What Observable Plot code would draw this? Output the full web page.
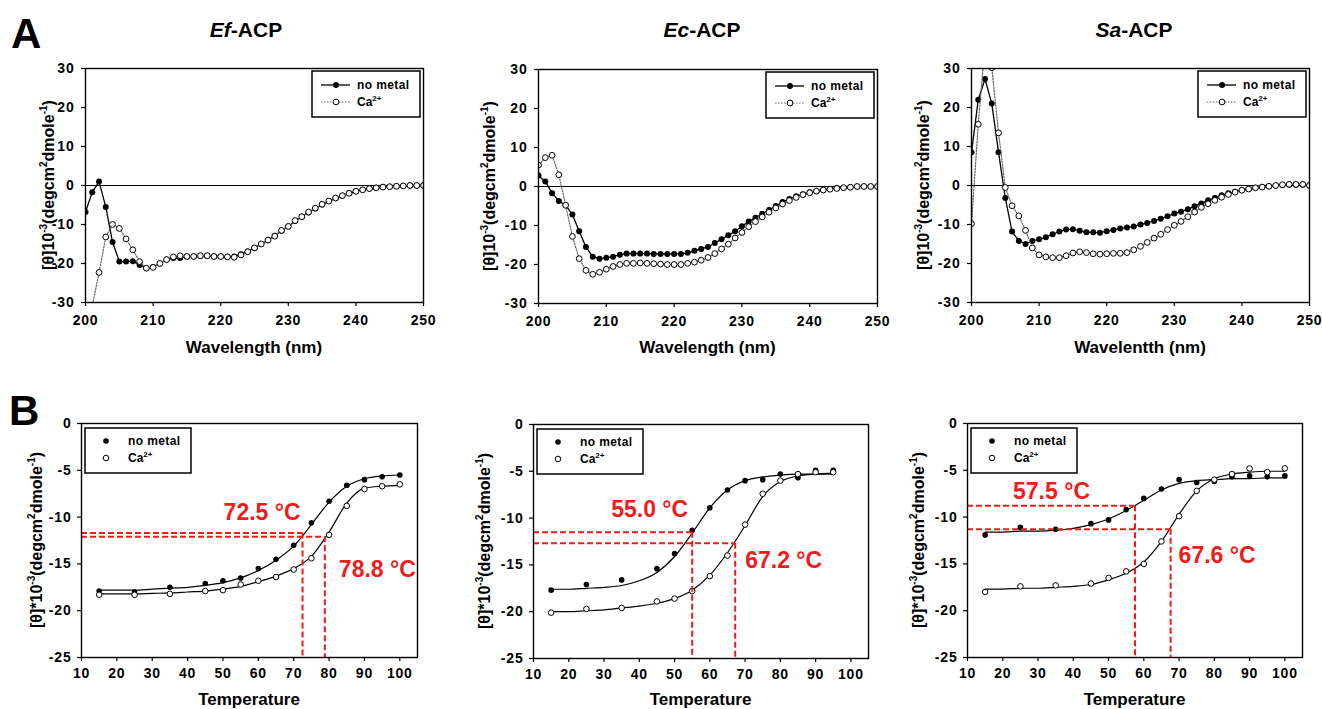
<!DOCTYPE html>
<html><head><meta charset="utf-8">
<script src="https://cdn.jsdelivr.net/npm/d3@7"></script>
<script src="https://cdn.jsdelivr.net/npm/@observablehq/plot@0.6"></script>
<style>
body{margin:0;background:#fff;}
#fig{position:relative;width:1322px;height:709px;overflow:hidden;background:#fff;}
#fig svg{position:absolute;overflow:visible;}
</style></head><body><div id="fig"></div>
<script>
// ---------------- DATA ----------------
const wavelength = [200,201,202,203,204,205,206,207,208,209,210,211,212,213,214,215,216,217,218,219,220,221,222,223,224,225,226,227,228,229,230,231,232,233,234,235,236,237,238,239,240,241,242,243,244,245,246,247,248,249,250];

const efNoMetal = [-6.8,-1.7,1.0,-5.5,-14.5,-19.5,-19.5,-19.4,-20.4,-21.2,-20.9,-20.0,-19.0,-18.6,-18.6,-18.3,-18.2,-18.1,-18.1,-18.2,-18.2,-18.3,-18.2,-17.6,-16.9,-16.0,-15.0,-14.0,-12.9,-11.6,-10.5,-9.1,-8.0,-6.9,-5.9,-4.9,-4.0,-3.3,-2.6,-2.0,-1.5,-1.1,-0.8,-0.6,-0.4,-0.3,-0.2,-0.1,0,0,0];
const efCa = [-48,-31,-22.3,-13.2,-10.0,-11.0,-13.7,-16.5,-19.5,-21.2,-21.0,-20.0,-19.0,-18.3,-18.0,-18.2,-18.2,-18.0,-18.0,-18.2,-18.2,-18.3,-18.4,-17.8,-17.0,-16.0,-15.0,-14.0,-13.0,-11.5,-10.5,-9.0,-8.0,-6.8,-5.8,-4.8,-4.0,-3.2,-2.6,-2.0,-1.5,-1.1,-0.8,-0.6,-0.4,-0.3,-0.2,-0.1,0,0,0];

const ecNoMetal = [2.8,1.3,-1.7,-3.7,-4.8,-7.2,-11.5,-15.5,-18.0,-18.5,-18.3,-18.0,-17.5,-17.2,-17.2,-17.2,-17.2,-17.3,-17.3,-17.3,-17.3,-17.3,-17.0,-16.5,-16.0,-15.5,-14.5,-13.5,-12.5,-11.5,-10.2,-9.0,-8.0,-7.0,-6.0,-5.0,-4.0,-3.2,-2.5,-2.0,-1.5,-1.2,-0.9,-0.6,-0.4,-0.3,-0.2,0,0,0,0];
const ecCa = [5.5,7.4,8.0,3.0,-4.8,-12.8,-18.5,-21.5,-22.5,-22.0,-21.2,-20.5,-20.0,-19.7,-19.7,-19.6,-19.7,-19.8,-19.9,-20.0,-20.0,-20.0,-19.7,-19.4,-18.9,-18.2,-17.2,-16.0,-14.8,-13.2,-11.8,-10.3,-9.0,-7.8,-6.6,-5.5,-4.5,-3.6,-2.8,-2.1,-1.6,-1.2,-0.9,-0.7,-0.5,-0.3,-0.2,0,0,0,0];

const saNoMetal = [8.5,22.0,27.3,21.0,8.5,-3.2,-11.8,-14.2,-15.0,-14.2,-13.8,-13.3,-12.5,-11.8,-11.3,-11.2,-11.6,-12.0,-12.0,-12.1,-11.7,-11.4,-11.0,-10.8,-10.5,-10.0,-9.6,-9.1,-8.5,-7.9,-7.2,-6.7,-6.1,-5.3,-4.6,-3.8,-3.2,-2.5,-2.0,-1.6,-1.2,-0.9,-0.6,-0.4,-0.2,0,0.1,0.2,0.2,0.2,0];
const saCa = [-9.8,15.7,36,30.2,13.5,-0.5,-5.2,-7.8,-11.5,-16.0,-17.8,-18.3,-18.5,-18.5,-18.0,-17.3,-17.0,-17.2,-17.5,-17.6,-17.5,-17.4,-17.4,-17.2,-16.5,-15.6,-14.6,-13.5,-12.5,-11.3,-10.2,-9.2,-8.0,-6.8,-5.6,-4.7,-3.8,-3.0,-2.3,-1.7,-1.2,-0.9,-0.6,-0.4,-0.2,0,0.2,0.3,0.3,0.3,0];

// thermal melts (B)
const efTemp = [15,25,35,45,50,55,60,65,70,75,80,85,90,95,100];
const efMeltNoMetal = [-17.9,-18.0,-17.5,-17.1,-16.8,-16.5,-15.5,-14.5,-13.0,-10.6,-8.3,-6.6,-6.0,-5.7,-5.5];
const efMeltCa = [-18.3,-18.3,-18.2,-17.9,-17.8,-17.2,-16.8,-16.4,-15.6,-14.4,-11.9,-8.8,-7.0,-6.7,-6.5];
const efFitTemp = [15,20,25,30,35,40,45,50,55,60,65,70,75,80,85,90,95,100];
const efFitNoMetal = [-17.8,-17.8,-17.8,-17.7,-17.6,-17.5,-17.3,-17.0,-16.5,-15.7,-14.6,-13.1,-10.8,-8.4,-6.7,-5.9,-5.6,-5.5];
const efFitCa = [-18.2,-18.2,-18.2,-18.15,-18.1,-18.0,-17.9,-17.7,-17.4,-16.9,-16.3,-15.5,-14.2,-11.6,-8.5,-6.9,-6.7,-6.6];
const efTm = [72.5, 78.8];
const efTmY = [-11.7, -12.1];

const ecTemp = [15,25,35,45,50,55,60,65,70,75,80,85,90,95];
const ecMeltNoMetal = [-17.7,-17.1,-16.6,-15.4,-13.8,-11.3,-8.9,-7.0,-6.0,-5.9,-5.3,-5.7,-4.9,-4.9];
const ecMeltCa = [-20.1,-19.7,-19.6,-18.9,-18.6,-17.8,-16.2,-14.0,-10.7,-7.4,-6.0,-5.3,-5.1,-5.1];
const ecFitTemp = [15,20,25,30,35,40,45,50,55,60,65,70,75,80,85,90,95];
const ecFitNoMetal = [-17.6,-17.6,-17.5,-17.4,-17.2,-16.7,-15.8,-14.1,-11.6,-8.9,-7.0,-6.0,-5.6,-5.4,-5.3,-5.3,-5.3];
const ecFitCa = [-20.0,-20.0,-19.9,-19.8,-19.6,-19.4,-19.1,-18.6,-17.7,-16.1,-13.7,-10.8,-7.7,-6.1,-5.5,-5.3,-5.2];
const ecTm = [55.0, 67.2];
const ecTmY = [-11.5, -12.7];

const saTemp = [15,25,35,45,50,55,60,65,70,75,80,85,90,95,100];
const saMeltNoMetal = [-11.9,-11.1,-11.3,-10.7,-10.3,-9.2,-8.0,-7.0,-6.0,-6.3,-6.2,-5.7,-5.6,-5.7,-5.6];
const saMeltCa = [-18.0,-17.4,-17.3,-17.1,-16.5,-15.8,-15.0,-12.6,-9.9,-7.2,-6.0,-5.4,-4.8,-5.2,-4.8];
const saFitTemp = [15,20,25,30,35,40,45,50,55,60,65,70,75,80,85,90,95,100];
const saFitNoMetal = [-11.6,-11.6,-11.5,-11.5,-11.4,-11.2,-10.8,-10.2,-9.3,-8.2,-7.1,-6.4,-6.1,-6.0,-5.9,-5.9,-5.8,-5.8];
const saFitCa = [-17.7,-17.7,-17.6,-17.6,-17.5,-17.4,-17.2,-16.7,-16.0,-14.8,-12.6,-9.7,-7.2,-5.9,-5.4,-5.2,-5.1,-5.1];
const saTm = [57.5, 67.6];
const saTmY = [-8.8, -11.3];

const cdXTicks = [200,210,220,230,240,250];
const cdYTicks = [-30,-20,-10,0,10,20,30];
const meltXTicks = [10,20,30,40,50,60,70,80,90,100];
const meltYTicks = [-25,-20,-15,-10,-5,0];
const proteins = ["Ef","Ec","Sa"];
const cdXLabels = ["Wavelength (nm)","Wavelength (nm)","Wavelentth (nm)"];
const seriesNames = ["no metal","Ca"];

// ---------------- LAYOUT / STYLE ----------------
const FONT = '"Liberation Sans", Arial, Helvetica, sans-serif';
const RED = "#f01c1c";
const fig = document.getElementById("fig");

function placePlot(frame, opts, marks) {
  const [fx0, fy0, fx1, fy1] = frame;
  const mL = 80, mT = 30, mR = 30, mB = 60;
  const svg = Plot.plot({
    width: fx1 - fx0 + mL + mR, height: fy1 - fy0 + mT + mB,
    marginLeft: mL, marginTop: mT, marginRight: mR, marginBottom: mB,
    x: {domain: opts.xDomain}, y: {domain: opts.yDomain},
    style: {fontFamily: FONT, fontSize: "14px", fontWeight: "bold", color: "#000", background: "transparent", overflow: "visible"},
    marks: [
      ...marks,
      Plot.axisX({ticks: opts.xTicks, tickSize: 4, tickPadding: opts.xPad, tickFormat: d => String(d), label: null, fontSize: 14, strokeWidth: 1.2}),
      Plot.axisY({ticks: opts.yTicks, tickSize: 4, tickPadding: opts.yPad, tickFormat: d => String(d), label: null, fontSize: 14, strokeWidth: 1.2}),
      Plot.frame({stroke: "#000", strokeWidth: 1.4})
    ]
  });
  d3.select(svg).selectAll('g[aria-label$="tick label"]').attr("letter-spacing", "0.8px");
  svg.style.left = (fx0 - mL) + "px";
  svg.style.top = (fy0 - mT) + "px";
  fig.appendChild(svg);
}

const cdFrames = [[85,68,423,302],[538,69,877,303],[971,68,1309,302]];
const meltFrames = [[81,423,417,657],[533,424,868,658],[967,423,1302,657]];
const cdSets = [[efNoMetal, efCa],[ecNoMetal, ecCa],[saNoMetal, saCa]];
const meltSets = [
  [efTemp, efMeltNoMetal, efMeltCa, efFitTemp, efFitNoMetal, efFitCa, efTm, efTmY],
  [ecTemp, ecMeltNoMetal, ecMeltCa, ecFitTemp, ecFitNoMetal, ecFitCa, ecTm, ecTmY],
  [saTemp, saMeltNoMetal, saMeltCa, saFitTemp, saFitNoMetal, saFitCa, saTm, saTmY]
];
// annotation offsets (px) per panel: [above-label, below-label]
const annotStyle = [
  [{anchor:"end", dx:-2, dy:-20},{anchor:"start", dx:14, dy:33}],
  [{anchor:"end", dx:-4, dy:-23},{anchor:"start", dx:10, dy:17}],
  [{anchor:"end", dx:-45, dy:-14},{anchor:"start", dx:8, dy:26}]
];

// ---------- Panel A ----------
cdSets.forEach(([nm, ca], i) => {
  const dN = wavelength.map((w, j) => ({w, v: nm[j]}));
  const dC = wavelength.map((w, j) => ({w, v: ca[j]}));
  placePlot(cdFrames[i], {xDomain: [200, 250], yDomain: [-30, 30], xTicks: cdXTicks, yTicks: cdYTicks, xPad: 9, yPad: 7}, [
    Plot.ruleY([0], {stroke: "#000", strokeWidth: 1.2}),
    Plot.line(dN, {x: "w", y: "v", stroke: "#000", strokeWidth: 1.3, clip: true}),
    Plot.dot(dN, {x: "w", y: "v", r: 3, fill: "#000", clip: true}),
    Plot.line(dC, {x: "w", y: "v", stroke: "#666", strokeWidth: 1.2, strokeDasharray: "1.5,1.5", clip: true}),
    Plot.dot(dC, {x: "w", y: "v", r: 2.9, fill: "#fff", stroke: "#000", strokeWidth: 1, clip: true})
  ]);
});

// ---------- Panel B ----------
meltSets.forEach(([t, nm, ca, ft, fn, fc, tm, tmy], i) => {
  const dN = t.map((x, j) => ({x, v: nm[j]}));
  const dC = t.map((x, j) => ({x, v: ca[j]}));
  const fN = ft.map((x, j) => ({x, v: fn[j]}));
  const fC = ft.map((x, j) => ({x, v: fc[j]}));
  const ann = tm.map((x, j) => ({x, y: tmy[j], x0: 10, y0: -25, label: x.toFixed(1) + " °C"}));
  const marks = [
    Plot.line(fN, {x: "x", y: "v", stroke: "#000", strokeWidth: 1.2, curve: "monotone-x"}),
    Plot.line(fC, {x: "x", y: "v", stroke: "#000", strokeWidth: 1.2, curve: "monotone-x"}),
    Plot.dot(dN, {x: "x", y: "v", r: 2.8, fill: "#000"}),
    Plot.dot(dC, {x: "x", y: "v", r: 2.8, fill: "#fff", stroke: "#000", strokeWidth: 1}),
    Plot.ruleY(ann, {y: "y", x1: "x0", x2: "x", stroke: RED, strokeWidth: 2, strokeDasharray: "6,3"}),
    Plot.ruleX(ann, {x: "x", y1: "y", y2: "y0", stroke: RED, strokeWidth: 2, strokeDasharray: "6,3"})
  ];
  ann.forEach((a, j) => {
    const s = annotStyle[i][j];
    marks.push(Plot.text([a], {x: "x", y: "y", text: "label", textAnchor: s.anchor, dx: s.dx, dy: s.dy,
      fill: RED, fontSize: 23, fontWeight: "bold", lineAnchor: "middle"}));
  });
  placePlot(meltFrames[i], {xDomain: [10, 105], yDomain: [-25, 0], xTicks: meltXTicks, yTicks: meltYTicks, xPad: 7, yPad: 6}, marks);
});

// ---------- overlay text & legends ----------
const ov = d3.select(fig).append("svg").attr("width", 1322).attr("height", 709)
  .style("left", "0px").style("top", "0px")
  .attr("font-family", FONT).attr("font-weight", "bold").attr("fill", "#000");

ov.append("text").attr("x", 11).attr("y", 48).attr("font-size", 42).text("A");
ov.append("text").attr("x", 9).attr("y", 425).attr("font-size", 42).text("B");

proteins.forEach((p, i) => {
  const [fx0, fy0, fx1, fy1] = cdFrames[i];
  const cx = [246, 702, 1134][i];
  const t = ov.append("text").attr("x", cx).attr("y", 37).attr("font-size", 21).attr("text-anchor", "middle");
  t.append("tspan").attr("font-style", "italic").text(p);
  t.append("tspan").text("-ACP");
  ov.append("text").attr("x", (fx0 + fx1) / 2).attr("y", 353).attr("font-size", 17).attr("text-anchor", "middle").text(cdXLabels[i]);
  const [bx0, by0, bx1, by1] = meltFrames[i];
  ov.append("text").attr("x", (bx0 + bx1) / 2).attr("y", 705).attr("font-size", 17).attr("text-anchor", "middle").text("Temperature");
});

function yLabel(cx, cy, star) {
  const t = ov.append("text").attr("transform", `translate(${cx},${cy}) rotate(-90)`)
    .attr("font-size", 16).attr("text-anchor", "middle").attr("dominant-baseline", "central");
  const sup = s => t.append("tspan").attr("font-size", 10).attr("baseline-shift", "45%").text(s);
  t.append("tspan").text(star ? "[θ]*10" : "[θ]10");
  sup("-3");
  t.append("tspan").text("(degcm");
  sup("2");
  t.append("tspan").text("dmole");
  sup("-1");
  t.append("tspan").text(")");
}
[[48,185],[489,186],[923,185]].forEach(([x,y]) => yLabel(x, y, false));
[[36,540],[484,541],[918,540]].forEach(([x,y]) => yLabel(x, y, true));

function caLabel(g, x, y) {
  const t = g.append("text").attr("x", x).attr("y", y).attr("font-size", 12).attr("dominant-baseline", "central");
  t.append("tspan").text("Ca");
  t.append("tspan").attr("font-size", 8).attr("baseline-shift", "50%").text("2+");
}

// CD legends (line + marker)
cdFrames.forEach(([fx0, fy0, fx1, fy1]) => {
  const bw = 108, bh = 46, bx = fx1 - 3 - bw, by = fy0 + 3;
  const g = ov.append("g");
  g.append("rect").attr("x", bx).attr("y", by).attr("width", bw).attr("height", bh).attr("fill", "#fff").attr("stroke", "#000").attr("stroke-width", 1.5);
  const r1 = by + 14, r2 = by + 31;
  g.append("line").attr("x1", bx + 9).attr("x2", bx + 38).attr("y1", r1).attr("y2", r1).attr("stroke", "#000").attr("stroke-width", 1.3);
  g.append("circle").attr("cx", bx + 24).attr("cy", r1).attr("r", 3).attr("fill", "#000");
  g.append("line").attr("x1", bx + 9).attr("x2", bx + 38).attr("y1", r2).attr("y2", r2).attr("stroke", "#666").attr("stroke-width", 1.2).attr("stroke-dasharray", "1.5,1.5");
  g.append("circle").attr("cx", bx + 24).attr("cy", r2).attr("r", 2.9).attr("fill", "#fff").attr("stroke", "#000");
  g.append("text").attr("x", bx + 45).attr("y", r1).attr("font-size", 12).attr("letter-spacing", "0.4px").attr("dominant-baseline", "central").text(seriesNames[0]);
  caLabel(g, bx + 45, r2);
});

// melt legends (markers only)
meltFrames.forEach(([fx0, fy0, fx1, fy1]) => {
  const bw = 106, bh = 45, bx = fx0 + 4, by = fy0 + 5;
  const g = ov.append("g");
  g.append("rect").attr("x", bx).attr("y", by).attr("width", bw).attr("height", bh).attr("fill", "#fff").attr("stroke", "#000").attr("stroke-width", 1.5);
  const r1 = by + 13, r2 = by + 30;
  g.append("circle").attr("cx", bx + 21).attr("cy", r1).attr("r", 2.8).attr("fill", "#000");
  g.append("circle").attr("cx", bx + 21).attr("cy", r2).attr("r", 2.8).attr("fill", "#fff").attr("stroke", "#000");
  g.append("text").attr("x", bx + 43).attr("y", r1).attr("font-size", 12).attr("letter-spacing", "0.4px").attr("dominant-baseline", "central").text(seriesNames[0]);
  caLabel(g, bx + 43, r2);
});
</script></body></html>
